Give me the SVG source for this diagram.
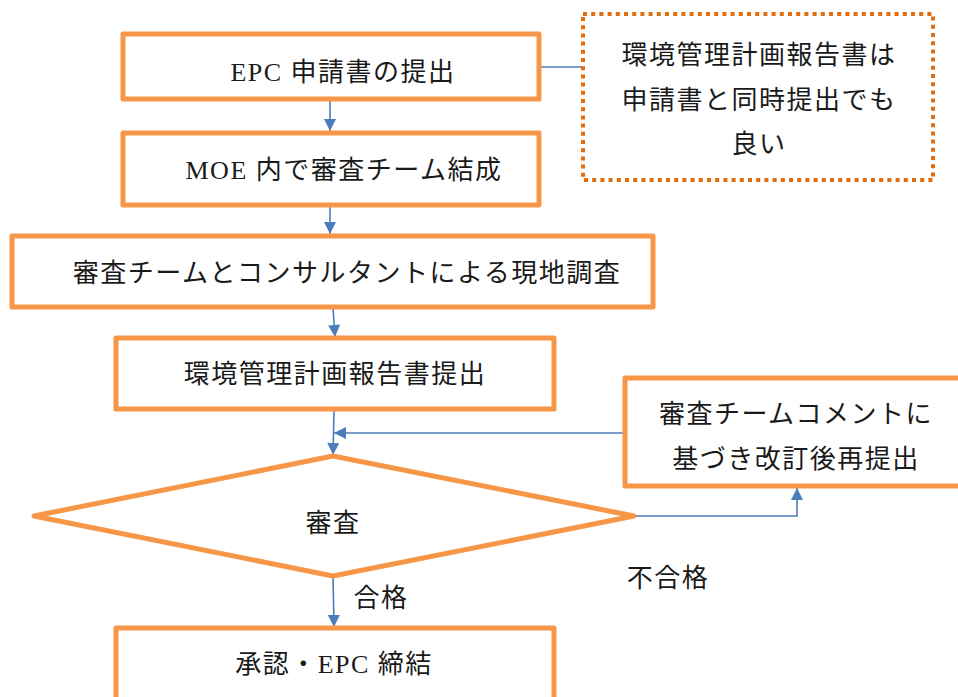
<svg xmlns="http://www.w3.org/2000/svg" width="958" height="697" viewBox="0 0 958 697">
<style>
.box{fill:#fff;stroke:#F79646;stroke-width:5;stroke-linejoin:round}
.note{fill:#fff;stroke:#E46C0A;stroke-width:4;stroke-dasharray:4 4.2}
.t{font-family:"Liberation Serif","Noto Sans CJK JP",serif;font-size:26px;fill:#1a1a1a;text-anchor:middle;letter-spacing:1.5px}
.c{fill:none;stroke:#4A7EBB;stroke-width:1.6}
</style>
<defs>
<marker id="ah" viewBox="0 0 10 10" refX="10" refY="5" markerWidth="13" markerHeight="12" markerUnits="userSpaceOnUse" orient="auto">
<path d="M0,0 L10,5 L0,10 z" fill="#4A7EBB"/>
</marker>
</defs>
<g id="connectors">
<line class="c" x1="540" y1="67" x2="582" y2="67"/>
<line class="c" x1="330" y1="100" x2="330" y2="131" marker-end="url(#ah)"/>
<line class="c" x1="330" y1="206" x2="330" y2="234" marker-end="url(#ah)"/>
<line class="c" x1="333" y1="308" x2="335" y2="337" marker-end="url(#ah)"/>
<line class="c" x1="334" y1="411" x2="333" y2="455" marker-end="url(#ah)"/>
<line class="c" x1="635" y1="433" x2="334" y2="433" marker-end="url(#ah)"/>
<polyline class="c" points="634,516 797,516 797,488" marker-end="url(#ah)"/>
<line class="c" x1="333" y1="577" x2="334" y2="627" marker-end="url(#ah)"/>
</g>
<g id="n1"><rect class="box" x="123" y="34" width="416" height="65"/><text class="t" x="343" y="81">EPC 申請書の提出</text></g>
<g id="n2"><rect class="box" x="123" y="133" width="416" height="72"/><text class="t" x="344" y="179">MOE 内で審査チーム結成</text></g>
<g id="note"><rect class="note" x="583" y="14" width="350" height="166"/>
<text class="t" x="759" y="64">環境管理計画報告書は</text>
<text class="t" x="759" y="109">申請書と同時提出でも</text>
<text class="t" x="759" y="153">良い</text></g>
<g id="n3"><rect class="box" x="12" y="236" width="641" height="71"/><text class="t" x="347" y="282">審査チームとコンサルタントによる現地調査</text></g>
<g id="n4"><rect class="box" x="116" y="338" width="438" height="71"/><text class="t" x="335" y="383">環境管理計画報告書提出</text></g>
<g id="n5"><rect class="box" x="625" y="378" width="345" height="108"/>
<text class="t" x="796" y="423">審査チームコメントに</text>
<text class="t" x="796" y="468">基づき改訂後再提出</text></g>
<g id="d1"><polygon class="box" points="333,456 634,516 333,576 34,516"/><text class="t" x="333" y="532">審査</text></g>
<g id="lbl"><text class="t" x="668" y="587">不合格</text><text class="t" x="381" y="607">合格</text></g>
<g id="n6"><rect class="box" x="116" y="628" width="438" height="90"/><text class="t" x="334" y="673">承認・EPC 締結</text></g>
</svg>
